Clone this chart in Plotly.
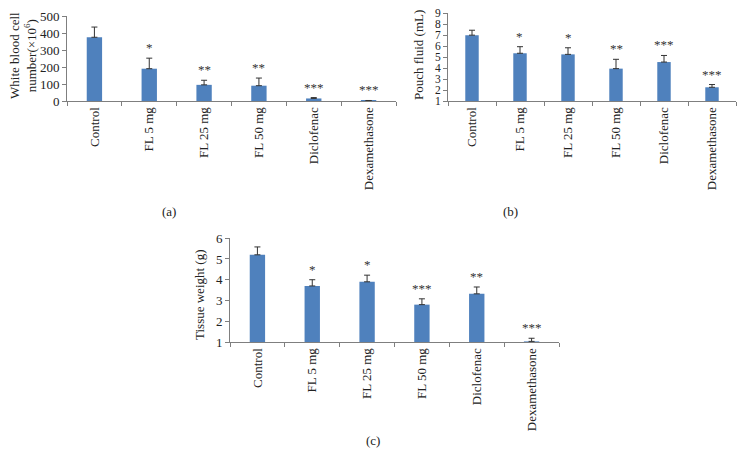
import plotly.graph_objects as go

categories = ["Control", "FL 5 mg", "FL 25 mg", "FL 50 mg", "Diclofenac", "Dexamethasone"]

wbc_values = [375, 190, 95, 90, 15, 2]
wbc_err_top = [435, 252, 122, 135, 20, 3]
wbc_marks = ["", "*", "**", "**", "***", "***"]
wbc_ticks = [0, 100, 200, 300, 400, 500]

pouch_values = [7.0, 5.35, 5.25, 3.95, 4.55, 2.25]
pouch_err_top = [7.45, 5.95, 5.85, 4.8, 5.15, 2.5]
pouch_marks = ["", "*", "*", "**", "***", "***"]
pouch_ticks = [1, 2, 3, 4, 5, 6, 7, 8, 9]

tissue_values = [5.2, 3.7, 3.9, 2.8, 3.32, 1.03]
tissue_err_top = [5.58, 4.0, 4.22, 3.08, 3.65, 1.18]
tissue_marks = ["", "*", "*", "***", "**", "***"]
tissue_ticks = [1, 2, 3, 4, 5, 6]

W, H = 747, 466
OFF = 8  # page body margin in the browser
FW, FH = W - OFF, H - OFF
BAR = "#4f81bd"
FONT = "Liberation Serif"

fig = go.Figure()

panels = [
    ("x", "y", wbc_values, wbc_err_top, wbc_marks),
    ("x2", "y2", pouch_values, pouch_err_top, pouch_marks),
    ("x3", "y3", tissue_values, tissue_err_top, tissue_marks),
]

for xa, ya, vals, tops, marks in panels:
    fig.add_trace(go.Bar(
        x=categories, y=vals, xaxis=xa, yaxis=ya,
        marker=dict(color=BAR, line=dict(width=0)),
        width=0.28,
        error_y=dict(type="data", symmetric=False,
                     array=[t - v for t, v in zip(tops, vals)],
                     arrayminus=[0] * len(vals),
                     color="#333333", thickness=1, width=3),
        showlegend=False,
    ))
    for c, t, m in zip(categories, tops, marks):
        if m:
            fig.add_annotation(x=c, y=t, xref=xa, yref=ya, text=m, showarrow=False,
                               yanchor="bottom", yshift=1,
                               font=dict(family=FONT, size=13, color="#333333"))

def px_x(a, b):
    return [(a - OFF) / FW, (b - OFF) / FW]

def px_y(top, bottom):
    return [1 - (bottom - OFF) / FH, 1 - (top - OFF) / FH]

xcommon = dict(showgrid=False, showline=True, linecolor="#7f7f7f", linewidth=1,
               ticks="outside", tickson="boundaries", ticklen=4, tickcolor="#7f7f7f",
               tickangle=-90, tickfont=dict(family=FONT, size=13, color="#222"),
               categoryorder="array", categoryarray=categories, fixedrange=True,
               automargin=False)
ycommon = dict(showgrid=False, showline=True, linecolor="#7f7f7f", linewidth=1,
               ticks="outside", ticklen=4, tickcolor="#7f7f7f", zeroline=False,
               automargin=False, tickmode="array", ticklabeloverflow="allow")

fig.update_layout(
    width=FW, height=FH, margin=dict(l=0, r=0, t=0, b=0),
    plot_bgcolor="white", paper_bgcolor="white",
    font=dict(family=FONT, size=13, color="#222"),
    xaxis=dict(domain=px_x(67, 396), anchor="y", **xcommon),
    yaxis=dict(domain=px_y(16, 101), anchor="x", range=[0, 500], tickvals=wbc_ticks,
               tickfont=dict(family=FONT, size=13, color="#222"), **ycommon),
    xaxis2=dict(domain=px_x(448, 736), anchor="y2", **xcommon),
    yaxis2=dict(domain=px_y(13, 101), anchor="x2", range=[1, 9.02], tickvals=pouch_ticks,
                tickfont=dict(family=FONT, size=11.5, color="#222"), **ycommon),
    xaxis3=dict(domain=px_x(230, 559), anchor="y3", **xcommon),
    yaxis3=dict(domain=px_y(238, 342), anchor="x3", range=[1, 6.01], tickvals=tissue_ticks,
                tickfont=dict(family=FONT, size=13, color="#222"), **ycommon),
)

# y-axis titles (rotated)
for txt, x, y in [("White blood cell<br>number(×10<sup>6</sup>)", 23, 56),
                  ("Pouch fluid (mL)", 419, 55),
                  ("Tissue weight (g)", 199, 295)]:
    fig.add_annotation(x=(x - OFF) / FW, y=1 - (y - OFF) / FH, xref="paper", yref="paper",
                       text=txt, showarrow=False, textangle=-90,
                       xanchor="center", yanchor="middle",
                       font=dict(family=FONT, size=13, color="#222"))

for txt, x, y in [("(a)", 160, 212), ("(b)", 520, 212), ("(c)", 373, 450)]:
    fig.add_annotation(x=(x - OFF) / FW, y=1 - (y - OFF) / FH, xref="paper", yref="paper",
                       text=txt, showarrow=False,
                       font=dict(family=FONT, size=13, color="#222"))

fig.write_html("out.html")
